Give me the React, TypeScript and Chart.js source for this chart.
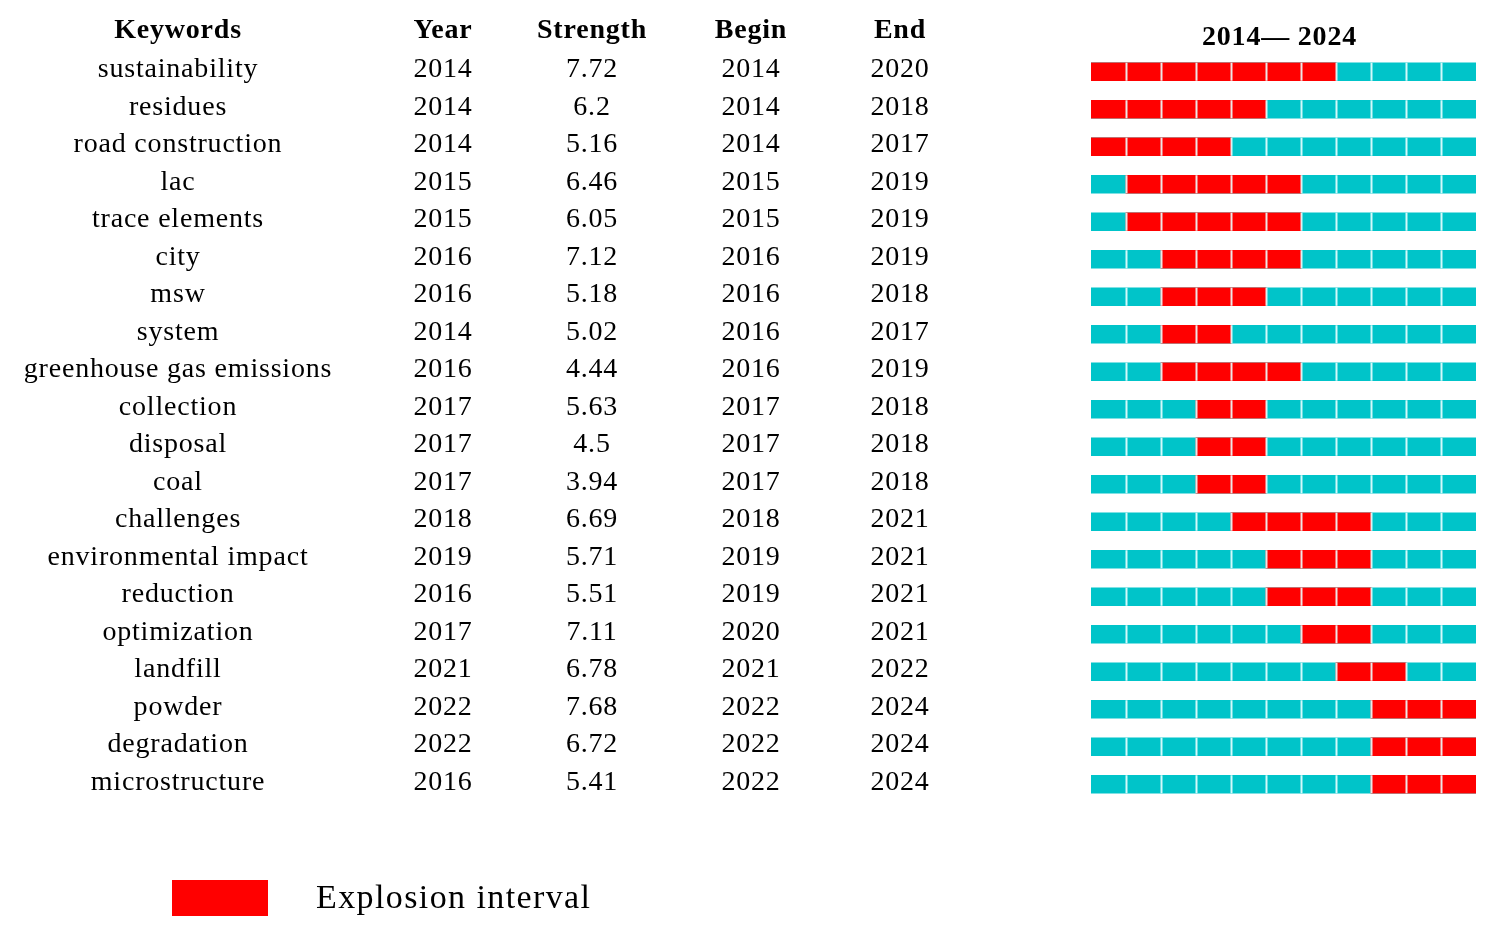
import React, { useEffect, useRef } from "react";
import { Chart, registerables } from "chart.js";

Chart.register(...registerables);

const keywords = [
  "sustainability", "residues", "road construction", "lac", "trace elements",
  "city", "msw", "system", "greenhouse gas emissions", "collection",
  "disposal", "coal", "challenges", "environmental impact", "reduction",
  "optimization", "landfill", "powder", "degradation", "microstructure",
];
const years = [2014, 2014, 2014, 2015, 2015, 2016, 2016, 2014, 2016, 2017, 2017, 2017, 2018, 2019, 2016, 2017, 2021, 2022, 2022, 2016];
const strengths = ["7.72", "6.2", "5.16", "6.46", "6.05", "7.12", "5.18", "5.02", "4.44", "5.63", "4.5", "3.94", "6.69", "5.71", "5.51", "7.11", "6.78", "7.68", "6.72", "5.41"];
const begins = [2014, 2014, 2014, 2015, 2015, 2016, 2016, 2016, 2016, 2017, 2017, 2017, 2018, 2019, 2019, 2020, 2021, 2022, 2022, 2022];
const ends = [2020, 2018, 2017, 2019, 2019, 2019, 2018, 2017, 2019, 2018, 2018, 2018, 2021, 2021, 2021, 2021, 2022, 2024, 2024, 2024];
const headers = ["Keywords", "Year", "Strength", "Begin", "End"];
const rangeStart = 2014;
const rangeEnd = 2024;
const periodTitle = "2014\u2014 2024";
const legendLabel = "Explosion interval";

const RED = "#FF0000";
const CYAN = "#00C4C9";

export default function App() {
  const ref = useRef<HTMLCanvasElement | null>(null);

  useEffect(() => {
    if (!ref.current) return;
    const colX = [178, 443, 592, 751, 900];
    const tablePlugin = {
      id: "tableText",
      afterDatasetsDraw(chart: any) {
        const ctx = chart.ctx as CanvasRenderingContext2D;
        const xs = chart.scales.x;
        ctx.save();
        ctx.strokeStyle = "rgba(235,255,255,0.9)";
        ctx.lineWidth = 2;
        const meta = chart.getDatasetMeta(1);
        meta.data.forEach((bar: any) => {
          const h = bar.height;
          for (let yr = rangeStart + 1; yr <= rangeEnd; yr++) {
            const x = Math.round(xs.getPixelForValue(yr)) + 0.5;
            ctx.beginPath();
            ctx.moveTo(x, bar.y - h / 2);
            ctx.lineTo(x, bar.y + h / 2);
            ctx.stroke();
          }
        });
        ctx.restore();
      },
      afterDraw(chart: any) {
        const ctx = chart.ctx as CanvasRenderingContext2D;
        const ys = chart.scales.y;
        const area = chart.chartArea;
        ctx.save();
        ctx.fillStyle = "#000";
        ctx.textAlign = "center";
        ctx.textBaseline = "middle";
        (ctx as any).letterSpacing = "0.8px";
        ctx.font = 'bold 28px "Liberation Serif"';
        headers.forEach((h, i) => ctx.fillText(h, colX[i], 31));
        ctx.fillText(periodTitle, (area.left + area.right) / 2 - 4, 38);
        ctx.font = '28px "Liberation Serif"';
        keywords.forEach((k, i) => {
          const y = ys.getPixelForValue(i) - 2;
          ctx.fillText(k, colX[0], y);
          ctx.fillText(String(years[i]), colX[1], y);
          ctx.fillText(strengths[i], colX[2], y);
          ctx.fillText(String(begins[i]), colX[3], y);
          ctx.fillText(String(ends[i]), colX[4], y);
        });
        ctx.fillStyle = RED;
        ctx.fillRect(172, 880, 96, 36);
        ctx.fillStyle = "#000";
        ctx.textAlign = "left";
        (ctx as any).letterSpacing = "1.4px";
        ctx.font = '34px "Liberation Serif"';
        ctx.fillText(legendLabel, 316, 899);
        ctx.restore();
      },
    };

    const chart = new Chart(ref.current, {
      type: "bar",
      data: {
        labels: keywords,
        datasets: [
          {
            label: legendLabel,
            data: begins.map((b, i) => [b, ends[i] + 1]) as any,
            backgroundColor: RED,
            order: 0,
            barThickness: 18,
            grouped: false,
          } as any,
          {
            label: "timeline",
            data: keywords.map(() => [rangeStart, rangeEnd + 1]) as any,
            backgroundColor: CYAN,
            order: 1,
            barThickness: 18,
            grouped: false,
          } as any,
        ],
      },
      options: {
        indexAxis: "y",
        animation: false,
        responsive: true,
        maintainAspectRatio: false,
        layout: { padding: { left: 1091, right: 21, top: 53, bottom: 127 } },
        plugins: { legend: { display: false }, tooltip: { enabled: false } },
        scales: {
          x: { type: "linear", min: rangeStart, max: rangeEnd + 1, display: false },
          y: { type: "category", display: false, offset: true },
        },
      },
      plugins: [tablePlugin],
    });
    return () => chart.destroy();
  }, []);

  return (
    <div style={{ position: "fixed", left: 0, top: 0, width: 1497, height: 930, background: "#fff" }}>
      <canvas ref={ref} />
    </div>
  );
}
